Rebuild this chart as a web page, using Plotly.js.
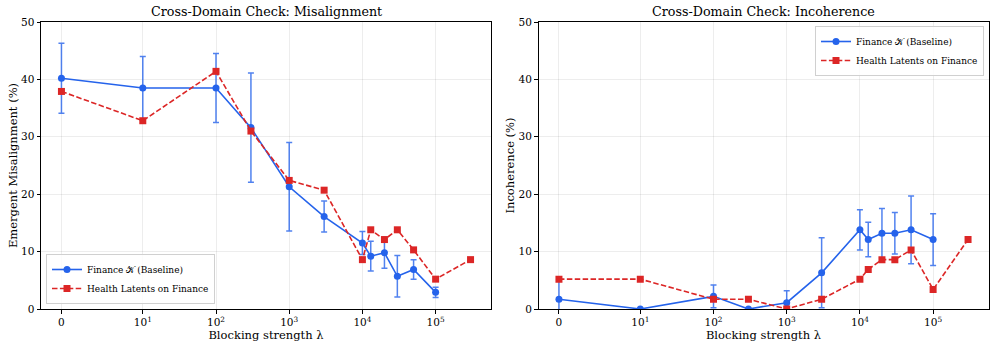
<!DOCTYPE html>
<html>
<head>
<meta charset="utf-8">
<script src="https://cdn.plot.ly/plotly-3.0.1.min.js"></script>
<style>
  body { margin: 0; background: #fff; }
  #chart { width: 996px; height: 348px; }
</style>
</head>
<body>
<div id="chart"></div>
<script>
// blocking strengths (lambda)
let lambdaBase = [0, 10, 100, 300, 1000, 3000, 10000, 13000, 20000, 30000, 50000, 100000];
let lambdaHealth = [0, 10, 100, 300, 1000, 3000, 10000, 13000, 20000, 30000, 50000, 100000, 300000];

// misalignment (%)
let misBase = [40.2, 38.5, 38.5, 31.6, 21.3, 16.1, 11.5, 9.2, 9.8, 5.7, 6.9, 2.9];
let misBaseErr = [6.1, 5.5, 6.0, 9.5, 7.7, 2.7, 2.0, 2.6, 2.7, 3.6, 1.7, 0.9];
let misHealth = [37.9, 32.8, 41.4, 31.0, 22.4, 20.7, 8.6, 13.8, 12.1, 13.8, 10.3, 5.2, 8.6];

// incoherence (%)
let incBase = [1.7, 0, 2.2, 0, 1.1, 6.3, 13.8, 12.1, 13.2, 13.2, 13.8, 12.1];
let incBaseErr = [3.5, 0, 2.0, 0, 2.1, 6.1, 3.5, 3.0, 4.3, 3.6, 5.9, 4.5];
let incHealth = [5.2, 5.2, 1.7, 1.7, 0, 1.7, 5.2, 6.9, 8.6, 8.6, 10.3, 3.4, 12.1];

let tickLambdas = [0, 10, 100, 1000, 10000, 100000];
let tickLabels = ["0", "10<sup>1</sup>", "10<sup>2</sup>", "10<sup>3</sup>", "10<sup>4</sup>", "10<sup>5</sup>"];

// symlog scale, linthresh = 10, linscale = 1 (matplotlib style)
function symlog(v) {
  let adj = 1 / (1 - 1 / 10);
  if (Math.abs(v) <= 10) return (v / 10) * adj;
  return Math.sign(v) * (adj + Math.log10(Math.abs(v) / 10));
}

let blue = "#2563eb";
let red = "#dc2626";
let font = "DejaVu Serif, serif";

let tMax = symlog(300000);
let pad = 0.05 * tMax;

function baseTrace(y, err, xa, ya, lg) {
  return {
    x: lambdaBase.map(symlog), y: y,
    xaxis: xa, yaxis: ya, legend: lg,
    name: "Finance \uD835\uDCA6 (Baseline)",
    type: "scatter", mode: "lines+markers",
    line: { color: blue, width: 1.6 },
    marker: { color: blue, size: 7, symbol: "circle" },
    error_y: { type: "data", array: err, visible: true, color: "rgba(37,99,235,0.8)", thickness: 1.5, width: 3 },
  };
}

function healthTrace(y, xa, ya, lg) {
  return {
    x: lambdaHealth.map(symlog), y: y,
    xaxis: xa, yaxis: ya, legend: lg,
    name: "Health Latents on Finance",
    type: "scatter", mode: "lines+markers",
    line: { color: red, width: 1.6, dash: "5.5px,2.4px" },
    marker: { color: red, size: 7, symbol: "square" },
  };
}

let data = [
  baseTrace(misBase, misBaseErr, "x", "y", "legend"),
  healthTrace(misHealth, "x", "y", "legend"),
  baseTrace(incBase, incBaseErr, "x2", "y2", "legend2"),
  healthTrace(incHealth, "x2", "y2", "legend2"),
];

function xAxis(domain, anchor) {
  return {
    domain: domain, anchor: anchor,
    range: [-pad, tMax + pad],
    tickvals: tickLambdas.map(symlog), ticktext: tickLabels,
    ticks: "outside", ticklen: 3.5, tickwidth: 0.8, tickcolor: "#000",
    showgrid: true, gridcolor: "rgba(0,0,0,0.07)", gridwidth: 0.8,
    zeroline: false, showline: true, linecolor: "#000", linewidth: 1, mirror: true,
    tickfont: { family: font, size: 10.5, color: "#000" },
    title: { text: "Blocking strength \u03bb", font: { family: font, size: 11.5, color: "#000" }, standoff: 2 },
  };
}

function yAxis(domain, anchor, title) {
  return {
    domain: domain, anchor: anchor,
    range: [0, 50], tickvals: [0, 10, 20, 30, 40, 50],
    ticks: "outside", ticklen: 3.5, tickwidth: 0.8, tickcolor: "#000",
    showgrid: true, gridcolor: "rgba(0,0,0,0.07)", gridwidth: 0.8,
    zeroline: false, showline: true, linecolor: "#000", linewidth: 1, mirror: true,
    tickfont: { family: font, size: 10.5, color: "#000" },
    title: { text: title, font: { family: font, size: 11.5, color: "#000" }, standoff: 1 },
  };
}

let yDom = [1 - 309 / 348, 1 - 22 / 348];

let legendStyle = {
  font: { family: font, size: 9, color: "#000" },
  bgcolor: "rgba(255,255,255,0.8)", bordercolor: "#d0d0d0", borderwidth: 1,
  tracegroupgap: 0, itemwidth: 30,
};

var layout = {
  width: 996, height: 348,
  margin: { l: 0, r: 0, t: 0, b: 0 },
  paper_bgcolor: "#fff", plot_bgcolor: "#fff",
  showlegend: true,
  xaxis: xAxis([41 / 996, 491 / 996], "y"),
  yaxis: yAxis(yDom, "x", "Emergent Misalignment (%)"),
  xaxis2: xAxis([538.5 / 996, 988.5 / 996], "y2"),
  yaxis2: yAxis(yDom, "x2", "Incoherence (%)"),
  legend: Object.assign({ x: 46 / 996, y: 1 - 304 / 348, xanchor: "left", yanchor: "bottom" }, legendStyle),
  legend2: Object.assign({ x: 984 / 996, y: 1 - 26 / 348, xanchor: "right", yanchor: "top" }, legendStyle),
  annotations: [
    { text: "Cross-Domain Check: Misalignment", xref: "paper", yref: "paper", x: 266 / 996, y: 1 - 12 / 348,
      xanchor: "center", yanchor: "middle", showarrow: false, font: { family: font, size: 12.7, color: "#000" } },
    { text: "Cross-Domain Check: Incoherence", xref: "paper", yref: "paper", x: 763.5 / 996, y: 1 - 12 / 348,
      xanchor: "center", yanchor: "middle", showarrow: false, font: { family: font, size: 12.7, color: "#000" } },
  ],
};

Plotly.newPlot("chart", data, layout, { displayModeBar: false });
</script>
</body>
</html>
